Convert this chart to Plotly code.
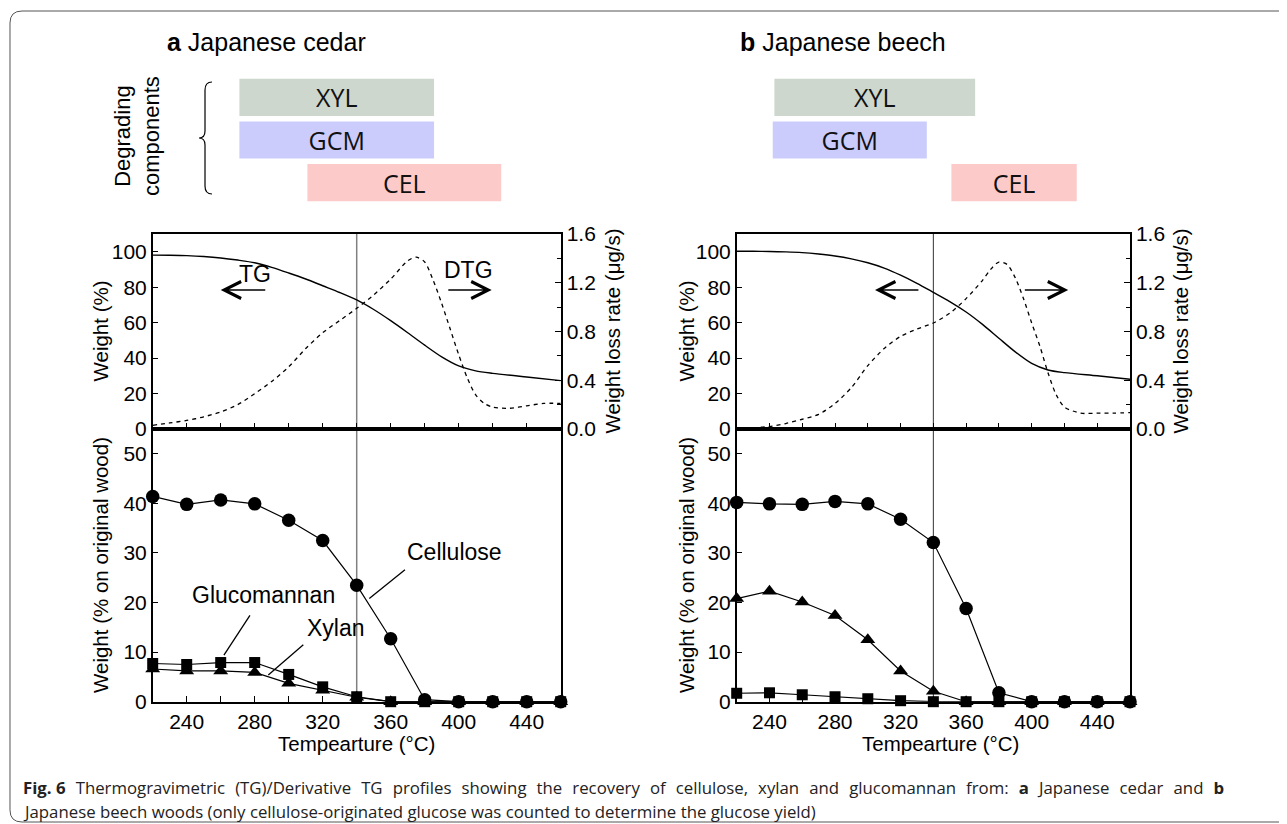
import plotly.graph_objects as go

W, H = 1287, 824          # screenshot size
OFF = 8                   # page body margin offset
FW, FH = W - OFF, H - OFF  # figure size so that it fills the window

# ---------------- data ----------------
temps = [220, 240, 260, 280, 300, 320, 340, 360, 380, 400, 420, 440, 460]
x_ticks = [220, 240, 260, 280, 300, 320, 340, 360, 380, 400, 420, 440, 460]
x_ticktext = ["", "240", "", "280", "", "320", "", "360", "", "400", "", "440", ""]

# bottom panels (% on original wood)
cel_a = [41.4, 39.8, 40.7, 39.9, 36.6, 32.5, 23.5, 12.7, 0.4, 0, 0, 0, 0]
gcm_a = [7.7, 7.5, 7.9, 7.9, 5.5, 3.0, 1.0, 0, 0, 0, 0, 0, 0]
xyl_a = [6.6, 6.2, 6.2, 5.9, 3.7, 2.3, 0.9, 0, 0, 0, 0, 0, 0]
cel_b = [40.2, 39.9, 39.8, 40.4, 39.9, 36.8, 32.1, 18.8, 1.8, 0, 0, 0, 0]
xyl_b = [20.8, 22.3, 20.1, 17.4, 12.5, 6.2, 2.1, 0, 0, 0, 0, 0, 0]
gcm_b = [1.7, 1.8, 1.4, 1.0, 0.6, 0.2, 0, 0, 0, 0, 0, 0, 0]

# TG curves (weight %)
tg_t = [220, 230, 240, 250, 260, 270, 280, 290, 300, 310, 320, 330, 340, 350,
        360, 370, 380, 390, 400, 410, 420, 440, 460]
tg_a = [98.1, 98.0, 97.8, 97.3, 96.5, 95.3, 93.8, 91.2, 88.0, 84.6, 80.8, 77.0,
        72.8, 67.4, 61.1, 54.3, 47.3, 40.7, 35.6, 32.8, 31.4, 29.3, 27.3]
tg_b = [100.3, 100.3, 100.1, 99.9, 99.5, 98.7, 97.6, 96.0, 93.8, 90.8, 86.8, 82.2,
        77.1, 71.9, 66.0, 59.0, 51.2, 43.5, 37.0, 33.3, 31.8, 30.0, 28.1]

# DTG curves (weight loss rate, ug/s)
dtg_t = [220, 230, 240, 250, 260, 270, 280, 290, 300, 310, 320, 330, 340, 350, 360,
         370, 375, 380, 385, 390, 395, 400, 405, 410, 415, 420, 430, 440, 450, 460]
dtg_a = [0.03, 0.05, 0.07, 0.10, 0.14, 0.20, 0.29, 0.39, 0.51, 0.66, 0.79, 0.89,
         0.99, 1.10, 1.23, 1.38, 1.41, 1.37, 1.22, 1.03, 0.82, 0.61, 0.42, 0.28,
         0.21, 0.18, 0.17, 0.19, 0.21, 0.21]
dtg_b = [0.0, 0.01, 0.02, 0.045, 0.08, 0.12, 0.21, 0.34, 0.52, 0.66, 0.76, 0.82,
         0.87, 0.95, 1.07, 1.22, 1.31, 1.37, 1.35, 1.24, 1.07, 0.87, 0.68, 0.46,
         0.28, 0.18, 0.13, 0.13, 0.13, 0.135]

# degrading-component temperature ranges
components = ["XYL", "GCM", "CEL"]
comp_rows = [2, 1, 0]
comp_colors = ["#cdd7cd", "#ccccfc", "#fdcaca"]
range_a_start = [271, 271, 311]
range_a_end = [385.5, 385.5, 425]
range_b_start = [243, 242, 351]
range_b_end = [365.5, 336, 427.5]


def px(x):
    return (x - OFF) / FW


def py(y):
    return 1 - (y - OFF) / FH


FAM = "Liberation Sans, Arial, sans-serif"
TICK_FONT = dict(family=FAM, size=21, color="black")
TITLE_SIZE = 20.5
LABEL_SIZE = 23

fig = go.Figure()

panels = [
    dict(dom=[px(152.7), px(560.7)], tg=tg_a, dtg=dtg_a, cel=cel_a, gcm=gcm_a, xyl=xyl_a,
         rs=range_a_start, re=range_a_end),
    dict(dom=[px(736.7), px(1130)], tg=tg_b, dtg=dtg_b, cel=cel_b, gcm=gcm_b, xyl=xyl_b,
         rs=range_b_start, re=range_b_end),
]

layout_axes = {}
bar_dom = [py(204), py(76)]
tg_dom = [py(429), py(234)]
bot_dom = [py(701.7), py(429)]

axis_common = dict(showline=True, linecolor="black", linewidth=1.5, showgrid=False,
                   zeroline=False, ticks="inside", ticklen=6, tickwidth=1.3,
                   tickcolor="black", tickfont=TICK_FONT, automargin=False)

for pi, p in enumerate(panels):
    if pi == 0:
        xb, xt, xbot = "x", "x2", "x3"
        yb, ytg, ydtg, ybot = "y", "y2", "y3", "y4"
    else:
        xb, xt, xbot = "x4", "x5", "x6"
        yb, ytg, ydtg, ybot = "y5", "y6", "y7", "y8"

    def ln(a):
        return a.replace("x", "xaxis").replace("y", "yaxis")

    layout_axes[ln(xb)] = dict(domain=p["dom"], range=[220, 460], visible=False, anchor=yb,
                               automargin=False)
    layout_axes[ln(yb)] = dict(domain=bar_dom, range=[-0.5, 2.5], visible=False, anchor=xb,
                               automargin=False)
    layout_axes[ln(xt)] = dict(axis_common, domain=p["dom"], range=[220, 460], anchor=ytg,
                               mirror=True, tickvals=x_ticks, showticklabels=False)
    layout_axes[ln(ytg)] = dict(axis_common, domain=tg_dom, range=[0, 110], anchor=xt,
                                tickvals=[0, 20, 40, 60, 80, 100])
    layout_axes[ln(ydtg)] = dict(axis_common, overlaying=ytg, side="right", range=[0, 1.6],
                                 anchor=xt, tickvals=[0, 0.4, 0.8, 1.2, 1.6],
                                 ticktext=["0.0", "0.4", "0.8", "1.2", "1.6"],
                                 minor=dict(tickvals=[0.2, 0.6, 1.0, 1.4], ticks="inside",
                                            ticklen=4, tickcolor="black"))
    layout_axes[ln(xbot)] = dict(axis_common, domain=p["dom"], range=[220, 460], anchor=ybot,
                                 mirror=True, tickvals=x_ticks, ticktext=x_ticktext)
    layout_axes[ln(ybot)] = dict(axis_common, domain=bot_dom, range=[0, 55], anchor=xbot,
                                 mirror=True, tickvals=[0, 10, 20, 30, 40, 50])

    # degrading component bars
    for name, row, col, s, e in zip(components, comp_rows, comp_colors, p["rs"], p["re"]):
        fig.add_trace(go.Bar(
            x=[e - s], base=[s], y=[row], orientation="h", width=0.87,
            marker=dict(color=col, line=dict(width=0)),
            text=[name], textposition="inside", insidetextanchor="middle",
            constraintext="none",
            textfont=dict(family="Open Sans, Noto Sans, sans-serif", size=25, color="#111111"),
            xaxis=xb, yaxis=yb, showlegend=False, hoverinfo="skip"))

    # TG / DTG
    fig.add_trace(go.Scatter(x=tg_t, y=p["tg"], mode="lines",
                             line=dict(color="black", width=1.4, shape="spline", smoothing=0.8),
                             xaxis=xt, yaxis=ytg, showlegend=False))
    fig.add_trace(go.Scatter(x=dtg_t, y=p["dtg"], mode="lines",
                             line=dict(color="black", width=1.3, dash="4px,4px",
                                       shape="spline", smoothing=0.8),
                             xaxis=xt, yaxis=ydtg, showlegend=False))

    # recovery markers
    for vals, sym, sz in [(p["cel"], "circle", 13.5), (p["gcm"], "square", 11),
                          (p["xyl"], "triangle-up", 13)]:
        fig.add_trace(go.Scatter(x=temps, y=vals, mode="lines+markers", cliponaxis=False,
                                 line=dict(color="black", width=1.2),
                                 marker=dict(symbol=sym, size=sz, color="black"),
                                 xaxis=xbot, yaxis=ybot, showlegend=False))

shapes = []
annotations = []

# vertical reference lines at 340 C
for xa, col, wd in [("x2", "#808080", 1.5), ("x5", "#333333", 1)]:
    shapes.append(dict(type="line", xref=xa, yref="paper", x0=340, x1=340,
                       y0=py(701.7), y1=py(234), line=dict(color=col, width=wd), layer="below"))

# leader lines in panel a bottom
for (x0, y0, x1, y1) in [(368.4, 26.6, 347.4, 20.8), (277.2, 17.4, 261.9, 9.4),
                         (308.6, 11.5, 288.0, 5.4)]:
    shapes.append(dict(type="line", xref="x3", yref="y4", x0=x0, y0=y0, x1=x1, y1=y1,
                       line=dict(color="black", width=1.3)))


def P(x, y):
    return f"{px(x):.5f},{py(y):.5f}"


# curly brace
brace = (f"M{P(212,82)} Q{P(205,82)} {P(205,90)} L{P(205,131)} Q{P(205,138)} {P(199,138)} "
         f"Q{P(205,138)} {P(205,145)} L{P(205,186)} Q{P(205,194)} {P(212,194)}")
shapes.append(dict(type="path", xref="paper", yref="paper", path=brace,
                   line=dict(color="black", width=1.2)))

# outer rounded frame
frame = (f"M{P(1300,11)} L{P(22,11)} Q{P(10,11)} {P(10,23)} L{P(10,810)} "
         f"Q{P(10,822)} {P(22,822)} L{P(1300,822)}")
shapes.append(dict(type="path", xref="paper", yref="paper", path=frame,
                   line=dict(color="#555555", width=1)))


def txt(x, y, text, size=TITLE_SIZE, angle=0, xanchor="center", family=FAM, color="black"):
    annotations.append(dict(x=px(x), y=py(y), xref="paper", yref="paper", text=text,
                            showarrow=False, textangle=angle, xanchor=xanchor, yanchor="middle",
                            font=dict(family=family, size=size, color=color)))


# titles
txt(165, 42, "<b>a</b> Japanese cedar", size=25, xanchor="left")
txt(738, 42, "<b>b</b> Japanese beech", size=25, xanchor="left")
txt(137, 136, "Degrading<br>components", size=22, angle=-90)

# axis titles
for xl, xr, xc in [(100, 612, 356.7), (686, 1180, 940)]:
    txt(xl, 331.5, "Weight (%)", angle=-90)
    txt(xl, 565, "Weight (% on original wood)", angle=-90)
    txt(xr, 331.5, "Weight loss rate (\u03bcg/s)", angle=-90)
    txt(xc, 743.5, "Tempearture (°C)")

# curve labels
for x, y, t, xa, ya in [(280.2, 87.4, "TG", "x2", "y2"), (406, 89.7, "DTG", "x2", "y2"),
                        (397.8, 30.1, "Cellulose", "x3", "y4"),
                        (285, 21.5, "Glucomannan", "x3", "y4"),
                        (327.7, 14.9, "Xylan", "x3", "y4")]:
    annotations.append(dict(x=x, y=y, xref=xa, yref=ya, text=t, showarrow=False,
                            font=dict(family=FAM, size=LABEL_SIZE, color="black"),
                            xanchor="center", yanchor="middle"))

# arrows
for head, tail, xa, ya in [(260, 287.1, "x2", "y2"), (419.4, 393, "x2", "y2"),
                           (304.4, 331.8, "x5", "y6"), (422.3, 394.9, "x5", "y6")]:
    annotations.append(dict(x=head, y=78.4, ax=tail, ay=78.4, xref=xa, yref=ya, axref=xa,
                            ayref=ya, text="", showarrow=True, arrowhead=5, arrowsize=2.2,
                            arrowwidth=1.5, arrowcolor="black"))

# caption (first line justified: widened inter-word spaces)
CAP = "Open Sans, Noto Sans, sans-serif"
JS = "\u2002\u200a"
line1_words = ["<b>Fig. 6</b>" + JS + "Thermogravimetric", "(TG)/Derivative", "TG", "profiles",
               "showing", "the", "recovery", "of", "cellulose,", "xylan", "and", "glucomannan",
               "from:", "<b>a</b>", "Japanese", "cedar", "and", "<b>b</b>"]
txt(21, 787, JS.join(line1_words), size=16.8, xanchor="left", family=CAP, color="#222222")
txt(21, 811, "Japanese beech woods (only cellulose-originated glucose was counted to determine "
    "the glucose yield)", size=16.8, xanchor="left", family=CAP, color="#222222")

fig.update_layout(width=FW, height=FH, margin=dict(l=0, r=0, t=0, b=0, autoexpand=False),
                  paper_bgcolor="white", plot_bgcolor="white", showlegend=False,
                  barmode="overlay", shapes=shapes, annotations=annotations,
                  font=dict(family=FAM, size=20, color="black"), **layout_axes)

fig.write_html("out.html")
